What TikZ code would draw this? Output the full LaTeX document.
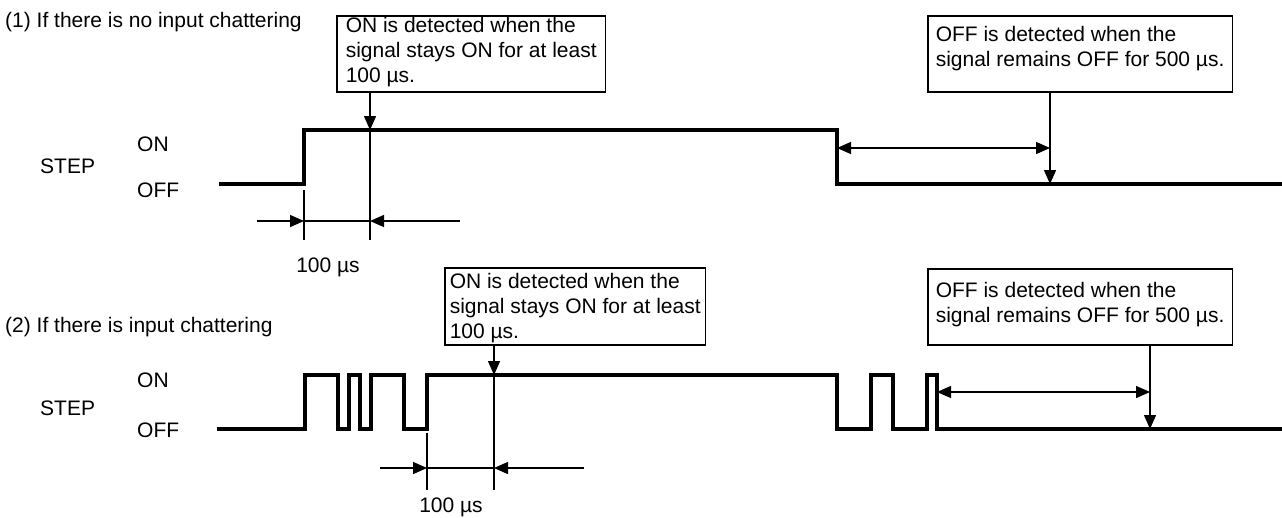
\documentclass[tikz,border=0pt]{standalone}
\usepackage{fontspec}
\setmainfont{Liberation Sans}
\usetikzlibrary{arrows.meta,positioning}
% text of a note box: height, width, top gap, lines
\newcommand{\notetext}[4]{\parbox[t][#1][t]{#2}{\vspace*{#3}#4}}

\begin{document}
\begin{tikzpicture}[x=1pt,y=-1pt,font=\fontsize{21}{25}\selectfont,
  signal/.style={line width=3.6pt,line join=miter},
  thin/.style={line width=1.4pt},
  tip/.style={-{Triangle[length=14pt,width=12pt]}},
  tips/.style={{Triangle[length=14pt,width=12pt]}-{Triangle[length=14pt,width=12pt]}},
  note/.style={draw,line width=1.5pt,inner ysep=0pt,anchor=north west},
  lbl/.style={anchor=base west,inner sep=0pt}]
\useasboundingbox (0,0) rectangle (1282,517);

% (1) no chattering
\node[lbl] (title1) at (5,27) {(1) If there is no input chattering};
\node[lbl] (on1) at (137,151) {ON};
\node[lbl] (step1) at (40,173) {STEP};
\node[lbl] (off1) at (137,197) {OFF};
\node[note,inner xsep=9pt] (note1) at (336,15)
  {\notetext{76pt}{259pt}{2pt}{\hbox{ON is detected when the}\hbox{signal stays ON for at least}\hbox{100 µs.}}};
\node[note,inner xsep=8pt] (note2) at (927,15)
  {\notetext{76pt}{291pt}{11pt}{\hbox{OFF is detected when the}\hbox{signal remains OFF for 500 µs.}}};
\draw[signal] (219,184) -| (304,130) -| (837,184) -- (1282,184);
\coordinate (det1) at (370,130);
\coordinate (rise1) at (304,190);
\coordinate (dimy1) at (0,221);
\coordinate (base1) at (0,240);
\coordinate (dl1) at (257,221);
\coordinate (dr1) at (460,221);
\draw[thin,tip] (note1.south -| det1) -- (det1);
\draw[thin] (det1) -- (det1 |- base1);
\draw[thin] (rise1) -- (rise1 |- base1);
\draw[thin,tip] (dl1) -- (rise1 |- dimy1);
\draw[thin] (rise1 |- dimy1) -- (det1 |- dimy1);
\draw[thin,tip] (dr1) -- (det1 |- dimy1);
\node[anchor=base,inner sep=0pt] (dim1) at (328,272) {100 µs};
\coordinate (fall1) at (837,148);
\coordinate (offdet1) at (1050,184);
\draw[thin,tips] (fall1) -- (fall1 -| offdet1);
\draw[thin,tip] (note2.south -| offdet1) -- (offdet1);

% (2) chattering
\node[lbl] (title2) at (5,332) {(2) If there is input chattering};
\node[lbl] (on2) at (137,387) {ON};
\node[lbl] (step2) at (40,415) {STEP};
\node[lbl] (off2) at (137,437) {OFF};
\node[note,inner xsep=5pt] (note3) at (444,267)
  {\notetext{77pt}{264pt}{6pt}{\hbox{ON is detected when the}\hbox{signal stays ON for at least}\hbox{100 µs.}}};
\node[note,inner xsep=8pt] (note4) at (927,268)
  {\notetext{76pt}{291pt}{14pt}{\hbox{OFF is detected when the}\hbox{signal remains OFF for 500 µs.}}};
\draw[signal] (217,429) -| (305,375) -| (338,429) -| (349,375) -| (360,429)
  -| (371,375) -| (404,429) -| (427,375) -| (837,429) -| (871,375)
  -| (893,429) -| (927,375) -| (937,429) -- (1282,429);
\coordinate (det2) at (494,375);
\coordinate (rise2) at (427,433);
\coordinate (dimy2) at (0,468);
\coordinate (base2) at (0,490);
\coordinate (dl2) at (380,468);
\coordinate (dr2) at (584,468);
\draw[thin,tip] (note3.south -| det2) -- (det2);
\draw[thin] (det2) -- (det2 |- base2);
\draw[thin] (rise2) -- (rise2 |- base2);
\draw[thin,tip] (dl2) -- (rise2 |- dimy2);
\draw[thin] (rise2 |- dimy2) -- (det2 |- dimy2);
\draw[thin,tip] (dr2) -- (det2 |- dimy2);
\node[anchor=base,inner sep=0pt] (dim2) at (451,512) {100 µs};
\coordinate (fall2) at (937,392);
\coordinate (offdet2) at (1150,429);
\draw[thin,tips] (fall2) -- (fall2 -| offdet2);
\draw[thin,tip] (note4.south -| offdet2) -- (offdet2);
\end{tikzpicture}
\end{document}
